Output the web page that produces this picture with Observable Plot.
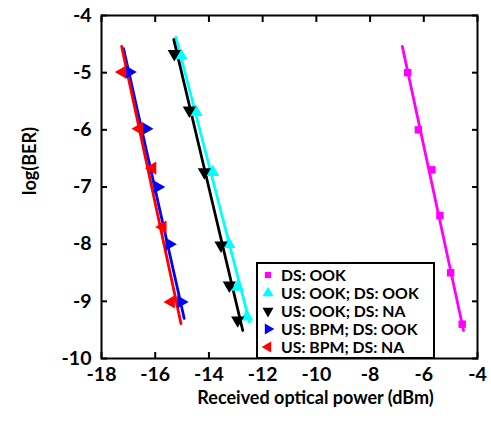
<!DOCTYPE html>
<html>
<head>
<meta charset="utf-8">
<script src="https://cdn.jsdelivr.net/npm/d3@7"></script>
<script src="https://cdn.jsdelivr.net/npm/@observablehq/plot@0.6"></script>
<style>
  html, body { margin: 0; padding: 0; background: #fff; }
  #wrap { position: relative; width: 491px; height: 423px; font-family: Lato, "DejaVu Sans", sans-serif; }
  #legend { position: absolute; left: 256px; top: 262px; width: 175px; height: 93px; border: 2px solid #000; background: #fff; box-sizing: content-box; }
  .row { position: absolute; left: 0; height: 18px; line-height: 16px; display: flex; align-items: center; font-weight: bold; font-size: 15.8px; color: #000; white-space: nowrap; }
  .row span { display: inline-block; line-height: 16px; }
  .row svg { margin-left: 3px; margin-right: 6px; }
</style>
</head>
<body>
<div id="wrap"><div id="chart"></div><div id="legend"></div></div>
<script>
// ---- data ----
const seriesNames = ["DS: OOK", "US: OOK; DS: OOK", "US: OOK; DS: NA", "US: BPM; DS: OOK", "US: BPM; DS: NA"];
const seriesColors = ["#ff00ff", "#00ffff", "#000000", "#0000ff", "#ff0000"];

const dsOokX = [-6.6, -6.2, -5.7, -5.4, -5.0, -4.57];
const dsOokY = [-5.0, -6.0, -6.7, -7.5, -8.5, -9.4];
const dsOokFitX = [-6.8, -4.52];
const dsOokFitY = [-4.54, -9.51];

const usOokDsOokX = [-15.04, -14.48, -13.86, -13.26, -12.93, -12.59];
const usOokDsOokY = [-4.7, -5.69, -6.74, -8.0, -8.75, -9.27];
const usOokDsOokFitX = [-15.23, -12.49];
const usOokDsOokFitY = [-4.38, -9.36];

const usOokDsNaX = [-15.29, -14.73, -14.17, -13.55, -13.24, -12.93];
const usOokDsNaY = [-4.67, -5.66, -6.74, -8.02, -8.72, -9.33];
const usOokDsNaFitX = [-15.31, -12.74];
const usOokDsNaFitY = [-4.42, -9.51];

const usBpmDsOokX = [-16.97, -16.35, -15.91, -15.48, -15.04];
const usBpmDsOokY = [-4.99, -5.98, -7.0, -8.0, -9.01];
const usBpmDsOokFitX = [-17.18, -14.92];
const usBpmDsOokFitY = [-4.58, -9.3];

const usBpmDsNaX = [-17.22, -16.6, -16.1, -15.72, -15.41];
const usBpmDsNaY = [-4.99, -5.98, -6.67, -7.7, -9.01];
const usBpmDsNaFitX = [-17.25, -15.04];
const usBpmDsNaFitY = [-4.54, -9.39];

const xTicks = [-18, -16, -14, -12, -10, -8, -6, -4];
const yTicks = [-10, -9, -8, -7, -6, -5, -4];
const xLabel = "Received optical power (dBm)";
const yLabel = "log(BER)";

// ---- symbols ----
function tri(dir) {
  return {
    draw(ctx, size) {
      const a = Math.sqrt(4 * size / Math.sqrt(3));
      const h = Math.sqrt(3) / 2 * a;
      let pts;
      if (dir === "up") pts = [[0, -2 * h / 3], [-a / 2, h / 3], [a / 2, h / 3]];
      else if (dir === "down") pts = [[0, 2 * h / 3], [-a / 2, -h / 3], [a / 2, -h / 3]];
      else if (dir === "right") pts = [[2 * h / 3, 0], [-h / 3, -a / 2], [-h / 3, a / 2]];
      else pts = [[-2 * h / 3, 0], [h / 3, -a / 2], [h / 3, a / 2]];
      ctx.moveTo(pts[0][0], pts[0][1]);
      ctx.lineTo(pts[1][0], pts[1][1]);
      ctx.lineTo(pts[2][0], pts[2][1]);
      ctx.closePath();
    }
  };
}
const seriesSymbols = [d3.symbolSquare, tri("up"), tri("down"), tri("right"), tri("left")];
const seriesR = [4.2, 4.9, 4.9, 4.9, 4.9];

const pointsX = [dsOokX, usOokDsOokX, usOokDsNaX, usBpmDsOokX, usBpmDsNaX];
const pointsY = [dsOokY, usOokDsOokY, usOokDsNaY, usBpmDsOokY, usBpmDsNaY];
const fitsX = [dsOokFitX, usOokDsOokFitX, usOokDsNaFitX, usBpmDsOokFitX, usBpmDsNaFitX];
const fitsY = [dsOokFitY, usOokDsOokFitY, usOokDsNaFitY, usBpmDsOokFitY, usBpmDsNaFitY];

const lineMarks = [];
const dotMarks = [];
seriesNames.forEach((name, i) => {
  const pts = pointsX[i].map((x, j) => ({x, y: pointsY[i][j]}));
  const fit = fitsX[i].map((x, j) => ({x, y: fitsY[i][j]}));
  lineMarks.push(Plot.line(fit, {x: "x", y: "y", stroke: seriesColors[i], strokeWidth: 2.8}));
  dotMarks.push(Plot.dot(pts, {x: "x", y: "y", fill: seriesColors[i], stroke: "none", symbol: seriesSymbols[i], r: seriesR[i]}));
});

const fmt = d => String(d);
const chart = Plot.plot({
  width: 491,
  height: 423,
  marginLeft: 101,
  marginRight: 14,
  marginTop: 15,
  marginBottom: 65,
  style: {fontFamily: "Lato, 'DejaVu Sans', sans-serif", color: "#000", background: "#fff"},
  x: {domain: [-18, -4]},
  y: {domain: [-10, -4]},
  marks: [
    ...lineMarks,
    ...dotMarks,
    Plot.axisX(xTicks, {anchor: "bottom", tickSize: -6, tickFormat: () => "", label: null, strokeWidth: 2}),
    Plot.axisX(xTicks, {anchor: "top", tickSize: -6, tickFormat: () => "", label: null, strokeWidth: 2}),
    Plot.axisY(yTicks, {anchor: "left", tickSize: -6, tickFormat: () => "", label: null, strokeWidth: 2}),
    Plot.axisY(yTicks, {anchor: "right", tickSize: -6, tickFormat: () => "", label: null, strokeWidth: 2}),
    Plot.axisX(xTicks, {anchor: "bottom", tickSize: 0, tickPadding: 9, tickFormat: fmt, label: null, fontSize: 19.5, fontWeight: "bold"}),
    Plot.axisY(yTicks, {anchor: "left", tickSize: 0, tickPadding: 10, tickFormat: fmt, label: null, fontSize: 19.5, fontWeight: "bold"}),
    Plot.frame({stroke: "#000", strokeWidth: 2}),
    Plot.text([xLabel], {frameAnchor: "bottom", dx: 26, dy: 45, fontSize: 18, fontWeight: "bold", fill: "#000"}),
    Plot.text([yLabel], {frameAnchor: "left", rotate: -90, dx: -71, dy: 8, fontSize: 18, fontWeight: "bold", fill: "#000"})
  ]
});
document.getElementById("chart").appendChild(chart);

// ---- legend ----
const legend = document.getElementById("legend");
const rowTops = [2, 20, 38, 56, 74];
seriesNames.forEach((name, i) => {
  const row = document.createElement("div");
  row.className = "row";
  row.style.top = rowTops[i] + "px";
  const path = d3.symbol().type(seriesSymbols[i]).size(Math.PI * seriesR[i] * seriesR[i] * 0.7)();
  row.innerHTML = `<svg width="14" height="14" viewBox="-7 -7 14 14"><path d="${path}" fill="${seriesColors[i]}"/></svg><span>${name}</span>`;
  legend.appendChild(row);
});
</script>
</body>
</html>
